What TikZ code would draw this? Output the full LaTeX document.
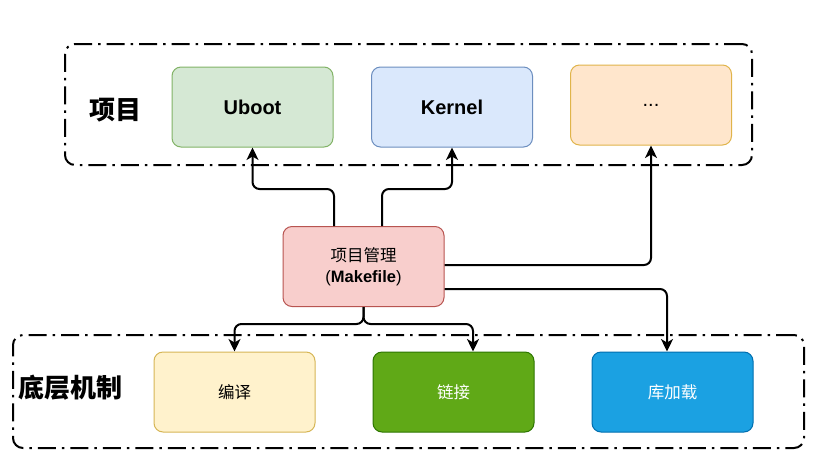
\documentclass[tikz,border=0pt]{standalone}
\usepackage{fontspec}
\setmainfont{Liberation Sans}
\newfontfamily\cjk{Noto Sans CJK SC}
\usetikzlibrary{arrows.meta}
\definecolor{gfill}{HTML}{D5E8D4}\definecolor{gdraw}{HTML}{82B366}
\definecolor{bfill}{HTML}{DAE8FC}\definecolor{bdraw}{HTML}{6C8EBF}
\definecolor{ofill}{HTML}{FFE6CC}\definecolor{odraw}{HTML}{E0B44A}
\definecolor{rfill}{HTML}{F8CECC}\definecolor{rdraw}{HTML}{B85450}
\definecolor{yfill}{HTML}{FFF2CC}\definecolor{ydraw}{HTML}{D6B656}
\definecolor{lfill}{HTML}{60A917}\definecolor{ldraw}{HTML}{2D7600}
\definecolor{cfill}{HTML}{1BA1E2}\definecolor{cdraw}{HTML}{006EAF}
\tikzset{
  box/.style={rectangle, rounded corners=9pt, line width=1pt, minimum width=161pt, minimum height=80pt, inner sep=0pt, align=center},
  grp/.style={rectangle, rounded corners=10pt, line width=2pt, draw=black, dash pattern=on 18pt off 6pt on 2.5pt off 6pt, inner sep=0pt},
  conn/.style={line width=2pt, rounded corners=7pt, -{Stealth[length=12.5pt,width=12pt,inset=3.5pt]}},
  big/.style={font=\cjk\bfseries\fontsize{26}{30}\selectfont},
  small/.style={font=\cjk\fontsize{16.5}{20}\selectfont},
  latin/.style={font=\bfseries\fontsize{20}{24}\selectfont}
}
\begin{document}
\begin{tikzpicture}[x=1pt,y=-1pt]
\useasboundingbox[fill=white] (0,0) rectangle (836,459);
% groups
\node[grp, minimum width=687pt, minimum height=121pt] (top) at (408.5,104.5) {};
\node[grp, minimum width=791pt, minimum height=113pt] (bot) at (408.5,391.5) {};
\node[big] (lbl1) at (115,110) {项目};
\node[big] (lbl2) at (71,388) {底层机制};
% top boxes
\node[box, fill=gfill, draw=gdraw, latin] (uboot) at (252.5,107) {Uboot};
\node[box, fill=bfill, draw=bdraw, latin] (kernel) at (452,107) {Kernel};
\node[box, fill=ofill, draw=odraw, font=\fontsize{20}{24}\selectfont] (etc) at (651,105) {...};
% middle
\node[box, fill=rfill, draw=rdraw, font=\fontsize{16.5}{21}\selectfont] (mk) at (363.5,266.5) {{\cjk 项目管理}\\(\textbf{Makefile})};
% bottom boxes
\node[box, fill=yfill, draw=ydraw, small] (comp) at (234.5,392) {编译};
\node[box, fill=lfill, draw=ldraw, small, text=white] (link) at (453.5,392) {链接};
\node[box, fill=cfill, draw=cdraw, small, text=white] (lib) at (672.5,392) {库加载};
% connectors
\draw[conn] ([xshift=-29.5pt]mk.north) -- ++(0,-37) -| (uboot.south);
\draw[conn] ([xshift=18.5pt]mk.north) -- ++(0,-37) -| (kernel.south);
\draw[conn] ([yshift=1.5pt]mk.east) -| (etc.south);
\draw[conn] ([yshift=-22.5pt]mk.east) -| ([xshift=-5.5pt]lib.north);
\draw[conn] (mk.south) -- ++(0,17) -| (comp.north);
\draw[conn] (mk.south) -- ++(0,17) -| ([xshift=19.5pt]link.north);
\end{tikzpicture}
\end{document}
